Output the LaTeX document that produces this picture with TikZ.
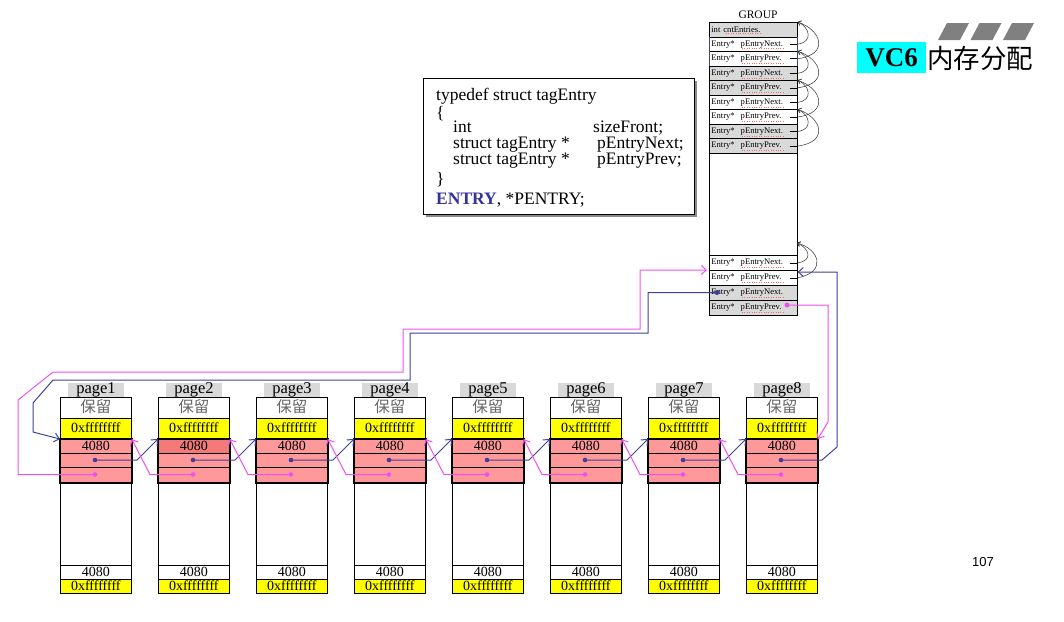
\documentclass[tikz,border=0pt]{standalone}
\usepackage{fontspec}
\setmainfont{Liberation Serif}
\newfontfamily\cjk{Noto Sans CJK SC}
\newfontfamily\sansf{Liberation Sans}
\usetikzlibrary{arrows.meta}
\definecolor{navyc}{HTML}{404098}
\definecolor{magc}{HTML}{F050F0}
\definecolor{pinkred}{HTML}{FF9999}
\definecolor{darkpink}{HTML}{F47A7A}
\definecolor{lgray}{HTML}{D9D9D9}
\definecolor{yel}{HTML}{FFFF00}
\definecolor{cyanc}{HTML}{00FFFF}
\definecolor{entryblue}{HTML}{333399}
\begin{document}
\begin{tikzpicture}[x=1pt,y=-1pt,
  cell/.style={draw, line width=0.7pt, anchor=north west, minimum width=71pt, inner sep=0pt, text height=9pt, text depth=1pt, font=\fontsize{14}{14}\selectfont},
  lab/.style={fill=lgray, minimum width=56pt, minimum height=14pt, inner sep=0pt, text height=10pt, text depth=3pt, font=\fontsize{16.5}{16.5}\selectfont},
  grprow/.style={draw, line width=0.6pt, anchor=north west, minimum width=88pt, minimum height=14.56pt, inner sep=0pt, text width=84pt, align=left, font=\fontsize{8.6}{8.6}\selectfont},
  hrow/.style={grprow, minimum height=15pt},
  bluec/.style={draw=navyc, line width=1pt, -{Straight Barb[length=5pt,width=9pt]}},
  magcon/.style={draw=magc, line width=1pt, -{Straight Barb[length=5pt,width=9pt]}},
  arcc/.style={draw=black!80, line width=0.5pt, -{Straight Barb[length=3pt,width=5pt]}},
  spell/.style={draw=red!60, dotted, line width=0.4pt},
  code/.style={anchor=base west, inner sep=0pt, font=\fontsize{17.5}{17.5}\selectfont}
]
\useasboundingbox (0,0) rectangle (1064,621);

% ---------- title ----------
\foreach \q/\s in {1/938,2/970.5,3/1003}{
  \fill[black!50] (\s,40) -- (\s+22,40) -- (\s+31,23) -- (\s+9,23) -- cycle;
}
\node[fill=cyanc, minimum width=69pt, minimum height=31pt, inner sep=0pt, anchor=north west, font=\bfseries\fontsize{27}{27}\selectfont] (vc) at (857,42) {VC6};
\node[anchor=west, inner sep=0pt, font=\cjk\fontsize{26.5}{26.5}\selectfont] (ttl) at (927,58) {内存分配};
\node[font=\sansf\fontsize{13}{13}\selectfont] (pnum) at (983,562) {107};

% ---------- struct box ----------
\fill[black!45] (426,81) rectangle (697,217);
\node[draw, line width=0.8pt, fill=white, minimum width=271pt, minimum height=136pt, inner sep=0pt, anchor=north west] (sbox) at (423,78) {};
\node[code] (c1) at (436,100) {typedef struct tagEntry};
\node[code] (c2) at (436,118) {\{};
\node[code] (c3a) at (453,132) {int};
\node[code] (c3b) at (593,132) {sizeFront;};
\node[code] (c4a) at (453,148) {struct tagEntry *};
\node[code] (c4b) at (597,148) {pEntryNext;};
\node[code] (c5a) at (453,164) {struct tagEntry *};
\node[code] (c5b) at (597,164) {pEntryPrev;};
\node[code] (c6) at (436,184) {\}};
\node[code] (c7) at (436,204) {\textcolor{entryblue}{\textbf{ENTRY}}, *PENTRY;};

% ---------- group ----------
\node[font=\fontsize{11.5}{11.5}\selectfont, inner sep=0pt] (gt) at (758,15) {GROUP};
\draw[line width=0.6pt] (709,22) rectangle (797,315);
\node[grprow, fill=lgray] (g0) at (709,22) {int\hspace{3pt}cntEntries.};
\draw[spell] (726,33) -- (762,33);
\foreach \k in {1,...,8}{
  \pgfmathtruncatemacro\pair{int((\k+1)/2)}
  \pgfmathtruncatemacro\odd{mod(\k,2)}
  \pgfmathtruncatemacro\shade{mod(\pair,2)}
  \ifnum\shade=0 \def\fc{lgray}\else\def\fc{white}\fi
  \ifnum\odd=1 \def\nm{pEntryNext.}\else\def\nm{pEntryPrev.}\fi
  \node[grprow, fill=\fc] (g\k) at (709,22+14.56*\k) {Entry*\hspace{6pt}\nm};
  \draw[spell] ([xshift=33pt,yshift=-4.5pt]g\k.west) -- ++(42,0);
  \draw[line width=0.5pt] ([xshift=-8pt]g\k.east) -- (g\k.east);
}
\draw[navyc, line width=0.8pt] (g1.north west) -- (g2.south west);
\draw[navyc, line width=0.8pt] (g1.north east) -- (g2.south east);
\foreach \p in {1,...,4}{
  \pgfmathtruncatemacro\kn{2*\p-1}
  \pgfmathtruncatemacro\kp{2*\p}
  \pgfmathtruncatemacro\kt{2*\p-2}
  \draw[arcc] (g\kn.east) .. controls +(16,-2) and +(12,5) .. (g\kt.north east);
  \draw[arcc] (g\kp.east) .. controls +(32,-4) and +(24,8) .. (g\kt.north east);
}
\node[hrow, fill=white] (h1) at (709,255) {Entry*\hspace{6pt}pEntryNext.};
\node[hrow, fill=white] (h2) at (709,270) {Entry*\hspace{6pt}pEntryPrev.};
\node[hrow, fill=lgray] (h3) at (709,285) {Entry*\hspace{6pt}pEntryNext.};
\node[hrow, fill=lgray] (h4) at (709,300) {Entry*\hspace{6pt}pEntryPrev.};
\foreach \k in {1,2,3,4}{
  \draw[spell] ([xshift=33pt,yshift=-4.5pt]h\k.west) -- ++(42,0);
}
\draw[line width=0.5pt] ([xshift=-8pt]h1.east) -- (h1.east);
\draw[line width=0.5pt] ([xshift=-8pt]h2.east) -- (h2.east);
\coordinate (gtop) at (797,243);
\draw[arcc] (h1.east) .. controls +(16,-2) and +(12,5) .. (gtop);
\draw[arcc] (h2.east) .. controls +(30,-6) and +(22,6) .. (gtop);
\coordinate (gb) at (717,292.5);
\coordinate (gm) at (787,305);

% ---------- pages ----------
\foreach \i in {1,...,8}{
  \pgfmathsetmacro\xx{60+98*(\i-1)}
  \ifnum\i=2 \def\acol{darkpink}\else\def\acol{pinkred}\fi
  \node[lab] (l\i) at (\xx+36,390) {page\i};
  \node[cell, minimum height=21pt, font=\cjk\fontsize{15.5}{15.5}\selectfont, text height=12pt, text depth=2pt, text=black!60] (r\i) at (\xx,397) {保留};
  \node[cell, minimum height=21pt, fill=yel] (f\i) at (\xx,418) {0xffffffff};
  \node[cell, minimum height=14pt, fill=\acol] (a\i) at (\xx,439) {4080};
  \node[cell, minimum height=14pt, fill=pinkred] (b\i) at (\xx,453) {};
  \node[cell, minimum height=15pt, fill=pinkred] (c\i) at (\xx,467) {};
  \node[cell, minimum height=83pt] (w\i) at (\xx,482) {};
  \node[cell, minimum height=14pt] (d\i) at (\xx,565) {4080};
  \node[cell, minimum height=14pt, fill=yel] (e\i) at (\xx,579) {0xffffffff};
  \draw[line width=1.6pt] (a\i.north west) rectangle (c\i.south east);
  \coordinate (n\i) at (\xx+35,460);
  \coordinate (m\i) at (\xx+35,474.5);
}

% ---------- links between pages ----------
\foreach \i in {1,...,7}{
  \pgfmathtruncatemacro\j{\i+1}
  \draw[bluec] (n\i) -- ++(42,0) -- (a\j.north west);
  \draw[magcon] (m\j) -- ++(-43,0) -- (a\i.north east);
}

% ---------- links to the group ----------
\draw[bluec] (gb) -- (648,292.5) -- (648,333) -- (410,333) -- (410,380) -- (53,380) -- (33,403) -- (33,432) -- (a1.north west);
\draw[magcon] (m1) -- (18,474.5) -- (18,400) -- (53,372) -- (403,372) -- (403,329) -- (640,329) -- (640,270) -- ([xshift=-2pt]h2.north west);
\draw[bluec] (n8) -- (822,460) -- (837,447) -- (837,272) -- ([yshift=-2pt]h2.north east);
\draw[magcon] (gm) -- (828,305) -- (828,422) -- (a8.north east);

% ---------- dots ----------
\foreach \i in {1,...,8}{
  \fill[navyc] (n\i) circle (2.3pt);
  \fill[magc] (m\i) circle (2.3pt);
}
\fill[navyc] (gb) circle (2.5pt);
\fill[magc] (gm) circle (2.5pt);
\end{tikzpicture}
\end{document}
